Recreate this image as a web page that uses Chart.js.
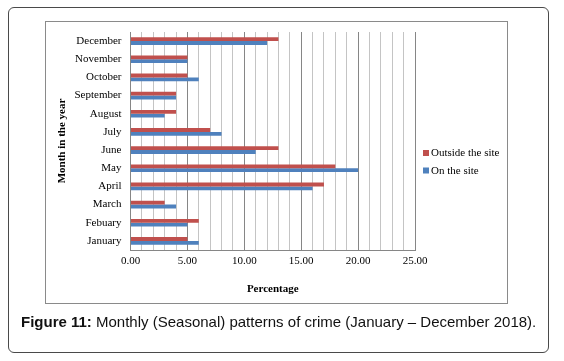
<!DOCTYPE html>
<html>
<head>
<meta charset="utf-8">
<script src="https://cdn.jsdelivr.net/npm/chart.js@4.4.1/dist/chart.umd.min.js"></script>
<style>
    html, body { margin: 0; padding: 0; background: #fff; }
    body { width: 564px; height: 361px; position: relative; overflow: hidden; }
    .outer-box {
        position: absolute; left: 8px; top: 7px; width: 539px; height: 344px;
        border: 1.5px solid #4a4a4a; border-radius: 6px;
    }
    .inner-box {
        position: absolute; left: 45px; top: 21px; width: 461px; height: 281px;
        border: 1px solid #8a8a8a;
    }
    .caption {
        position: absolute; left: 21px; top: 313px; white-space: nowrap;
        font: 15px "Liberation Sans", Arial, sans-serif; color: #111;
    }
    .caption b { font-weight: bold; }
    #crimeChart { position: absolute; left: 0; top: 0; }
</style>
</head>
<body>
<div class="outer-box"></div>
<div class="inner-box"></div>
<canvas id="crimeChart" width="564" height="361"></canvas>
<div class="caption"><b>Figure 11:</b> Monthly (Seasonal) patterns of crime (January – December 2018).</div>
<script>
// months listed bottom-up, the y axis is reversed so December ends on top
const months = ['January', 'Febuary', 'March', 'April', 'May', 'June',
    'July', 'August', 'September', 'October', 'November', 'December'];
const outsideSite = [5, 6, 3, 17, 18, 13, 7, 4, 4, 5, 5, 13];
const onSite = [6, 5, 4, 16, 20, 11, 8, 3, 4, 6, 5, 12];
const seriesNames = ['Outside the site', 'On the site'];
const seriesColors = ['#c0504d', '#4f81bd'];

const serif = '"Liberation Serif", "Times New Roman", serif';

// legend drawn beside the plot like the Excel original
const sideLegend = {
    id: 'sideLegend',
    afterDraw(chart) {
        const { ctx, chartArea } = chart;
        const midY = (chartArea.top + chartArea.bottom) / 2;
        ctx.save();
        ctx.font = '11px ' + serif;
        ctx.textBaseline = 'middle';
        chart.data.datasets.forEach((ds, i) => {
            const x = chartArea.right + 8;
            const y = midY + 12 + i * 17.5;
            ctx.fillStyle = ds.backgroundColor;
            ctx.fillRect(x, y - 3, 6, 6);
            ctx.fillStyle = '#000';
            ctx.fillText(ds.label, x + 8, y + 0.5);
        });
        ctx.restore();
    },
};

new Chart(document.getElementById('crimeChart'), {
    type: 'bar',
    data: {
        labels: months,
        datasets: [
            { label: seriesNames[0], data: outsideSite, backgroundColor: seriesColors[0] },
            { label: seriesNames[1], data: onSite, backgroundColor: seriesColors[1] },
        ],
    },
    options: {
        indexAxis: 'y',
        responsive: false,
        animation: false,
        devicePixelRatio: 1,
        categoryPercentage: 0.42,
        barPercentage: 1.0,
        layout: { padding: { left: 56, top: 32, right: 149, bottom: 65 } },
        plugins: {
            legend: { display: false },
            tooltip: { enabled: false },
        },
        scales: {
            x: {
                min: 0,
                max: 25,
                afterFit(scale) { scale.height = 46; },
                ticks: {
                    stepSize: 1,
                    autoSkip: false,
                    maxRotation: 0,
                    padding: 5,
                    color: '#000',
                    font: { family: serif, size: 11 },
                    callback: v => (v % 5 === 0 ? v.toFixed(2) : ''),
                },
                grid: {
                    drawTicks: false,
                    color: c => (c.tick && c.tick.value % 5 === 0 ? '#868686' : '#c4c4c4'),
                },
                border: { color: '#868686' },
                title: {
                    display: true,
                    text: 'Percentage',
                    color: '#000',
                    padding: 0,
                    font: { family: serif, size: 11, weight: 'bold' },
                },
            },
            y: {
                reverse: true,
                afterFit(scale) { scale.width = 74.5; },
                ticks: {
                    padding: 9,
                    color: '#000',
                    font: { family: serif, size: 11 },
                },
                grid: { display: false, drawTicks: false },
                border: { display: true, color: '#868686' },
                title: {
                    display: true,
                    text: 'Month in the year',
                    color: '#000',
                    padding: 0,
                    font: { family: serif, size: 11, weight: 'bold' },
                },
            },
        },
    },
    plugins: [sideLegend],
});
</script>
</body>
</html>
